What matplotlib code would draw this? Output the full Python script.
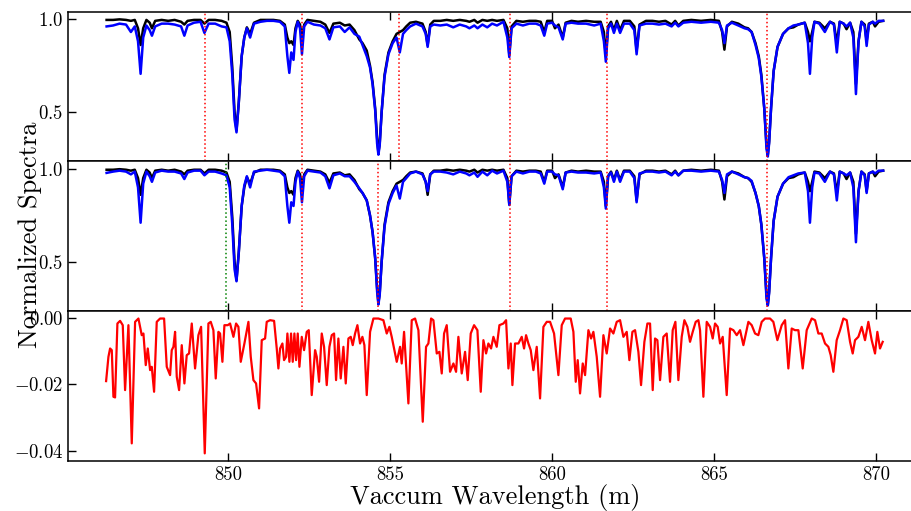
import numpy as np
import matplotlib
matplotlib.use('Agg')
import matplotlib.pyplot as plt
from matplotlib.ticker import MultipleLocator

plt.rcParams['font.family'] = 'serif'
plt.rcParams['font.serif'] = ['cmr10']
plt.rcParams['mathtext.fontset'] = 'cm'
plt.rcParams['axes.formatter.use_mathtext'] = True

# wavelength grid of the spectra
wave = [846.25, 846.45, 846.65, 846.85, 847.00, 847.12, 847.22, 847.30, 847.38, 847.48,
        847.58, 847.65, 847.75, 847.95, 848.15, 848.35, 848.55, 848.65, 848.75, 848.95,
        849.15, 849.27, 849.40, 849.60, 849.80, 849.95, 850.05, 850.13, 850.20, 850.26,
        850.33, 850.42, 850.50, 850.58, 850.68, 850.80, 851.00, 851.20, 851.40, 851.60,
        851.75, 851.83, 851.89, 851.95, 852.02, 852.08, 852.15, 852.22, 852.28, 852.35,
        852.45, 852.65, 852.85, 853.00, 853.13, 853.25, 853.45, 853.60, 853.75, 853.90,
        854.05, 854.15, 854.28, 854.38, 854.46, 854.54, 854.60, 854.64, 854.68, 854.74,
        854.83, 854.95, 855.08, 855.20, 855.30, 855.40, 855.50, 855.62, 855.80, 856.00,
        856.10, 856.16, 856.24, 856.35, 856.55, 856.75, 856.95, 857.15, 857.35, 857.45,
        857.60, 857.70, 857.85, 858.00, 858.15, 858.30, 858.50, 858.62, 858.68, 858.75,
        858.90, 859.10, 859.30, 859.50, 859.65, 859.76, 859.85, 860.00, 860.09, 860.20,
        860.33, 860.42, 860.60, 860.80, 861.05, 861.30, 861.50, 861.60, 861.66, 861.73,
        861.82, 861.91, 862.00, 862.10, 862.22, 862.40, 862.54, 862.61, 862.70, 862.90,
        863.10, 863.30, 863.50, 863.69, 863.80, 863.90, 864.05, 864.30, 864.60, 864.90,
        865.15, 865.25, 865.32, 865.40, 865.55, 865.75, 865.94, 866.05, 866.16, 866.28,
        866.38, 866.46, 866.55, 866.62, 866.66, 866.70, 866.76, 866.84, 866.96, 867.13,
        867.30, 867.45, 867.60, 867.80, 867.90, 867.96, 868.03, 868.10, 868.25, 868.42,
        868.58, 868.70, 868.79, 868.88, 869.00, 869.09, 869.20, 869.30, 869.38, 869.46,
        869.55, 869.65, 869.71, 869.78, 869.90, 869.97, 870.08, 870.22]

# observed spectrum (black, same in both panels)
observed = [0.995, 0.995, 0.998, 0.995, 0.99, 0.995, 0.95, 0.86, 0.95, 0.995,
            0.98, 0.95, 0.99, 0.995, 0.99, 0.995, 0.985, 0.97, 0.99, 0.995,
            0.995, 0.975, 0.995, 0.995, 0.99, 0.98, 0.93, 0.74, 0.50, 0.40,
            0.55, 0.80, 0.90, 0.955, 0.92, 0.98, 0.995, 0.995, 0.995, 0.99,
            0.97, 0.90, 0.87, 0.88, 0.86, 0.95, 0.99, 0.97, 0.90, 0.97,
            0.995, 0.99, 0.985, 0.97, 0.925, 0.975, 0.98, 0.965, 0.97, 0.94,
            0.89, 0.87, 0.83, 0.75, 0.66, 0.52, 0.36, 0.28, 0.33, 0.50,
            0.70, 0.82, 0.88, 0.92, 0.93, 0.94, 0.96, 0.98, 0.985, 0.975,
            0.93, 0.86, 0.97, 0.99, 0.99, 0.995, 0.99, 0.995, 0.99, 0.985,
            0.995, 0.98, 0.995, 0.99, 0.995, 0.99, 0.995, 0.95, 0.81, 0.96,
            0.99, 0.985, 0.99, 0.99, 0.985, 0.93, 0.99, 0.99, 0.95, 0.97,
            0.90, 0.98, 0.99, 0.985, 0.99, 0.985, 0.985, 0.93, 0.80, 0.96,
            0.985, 0.94, 0.99, 0.94, 0.99, 0.99, 0.96, 0.83, 0.97, 0.99,
            0.99, 0.985, 0.99, 0.97, 0.99, 0.965, 0.99, 0.995, 0.99, 0.995,
            0.99, 0.93, 0.835, 0.96, 0.985, 0.975, 0.955, 0.95, 0.93, 0.87,
            0.80, 0.70, 0.52, 0.32, 0.27, 0.34, 0.52, 0.72, 0.85, 0.92,
            0.95, 0.955, 0.97, 0.98, 0.93, 0.88, 0.93, 0.985, 0.98, 0.95,
            0.985, 0.975, 0.87, 0.985, 0.975, 0.945, 0.98, 0.93, 0.65, 0.88,
            0.985, 0.97, 0.88, 0.975, 0.985, 0.96, 0.985, 0.99]

# model spectrum, top panel
model_top = [0.96, 0.965, 0.975, 0.97, 0.93, 0.96, 0.88, 0.705, 0.90, 0.965,
             0.94, 0.91, 0.96, 0.975, 0.975, 0.97, 0.96, 0.91, 0.965, 0.98,
             0.985, 0.925, 0.975, 0.975, 0.96, 0.955, 0.88, 0.70, 0.46, 0.39,
             0.55, 0.80, 0.90, 0.95, 0.90, 0.975, 0.985, 0.99, 0.99, 0.985,
             0.96, 0.80, 0.71, 0.82, 0.78, 0.93, 0.985, 0.95, 0.81, 0.96,
             0.985, 0.97, 0.965, 0.95, 0.89, 0.955, 0.96, 0.93, 0.955, 0.92,
             0.905, 0.86, 0.80, 0.74, 0.65, 0.51, 0.33, 0.27, 0.32, 0.50,
             0.69, 0.81, 0.87, 0.90, 0.82, 0.92, 0.94, 0.96, 0.975, 0.96,
             0.92, 0.85, 0.96, 0.97, 0.965, 0.97, 0.955, 0.97, 0.96, 0.95,
             0.965, 0.95, 0.97, 0.955, 0.975, 0.965, 0.985, 0.90, 0.795, 0.95,
             0.975, 0.965, 0.975, 0.975, 0.965, 0.91, 0.975, 0.98, 0.965, 0.955,
             0.89, 0.975, 0.98, 0.975, 0.975, 0.965, 0.975, 0.88, 0.77, 0.95,
             0.975, 0.925, 0.975, 0.925, 0.975, 0.975, 0.94, 0.81, 0.965, 0.975,
             0.975, 0.97, 0.975, 0.96, 0.98, 0.96, 0.98, 0.985, 0.98, 0.985,
             0.98, 0.94, 0.87, 0.965, 0.98, 0.965, 0.95, 0.945, 0.93, 0.86,
             0.79, 0.69, 0.52, 0.30, 0.26, 0.33, 0.52, 0.72, 0.85, 0.92,
             0.95, 0.965, 0.97, 0.98, 0.87, 0.705, 0.90, 0.985, 0.975, 0.93,
             0.985, 0.97, 0.82, 0.985, 0.975, 0.96, 0.98, 0.90, 0.596, 0.88,
             0.985, 0.96, 0.855, 0.97, 0.985, 0.975, 0.99, 0.99]

# model spectrum, middle panel
model_mid = [0.978, 0.985, 0.99, 0.985, 0.97, 0.985, 0.90, 0.71, 0.92, 0.985,
             0.96, 0.93, 0.98, 0.99, 0.985, 0.985, 0.975, 0.945, 0.98, 0.99,
             0.99, 0.965, 0.985, 0.985, 0.975, 0.965, 0.90, 0.70, 0.46, 0.395,
             0.55, 0.80, 0.91, 0.96, 0.90, 0.985, 0.99, 0.995, 0.99, 0.985,
             0.96, 0.80, 0.71, 0.82, 0.80, 0.93, 0.985, 0.95, 0.82, 0.96,
             0.99, 0.985, 0.98, 0.96, 0.895, 0.965, 0.975, 0.96, 0.96, 0.93,
             0.895, 0.87, 0.83, 0.75, 0.66, 0.52, 0.34, 0.27, 0.32, 0.50,
             0.69, 0.81, 0.87, 0.91, 0.84, 0.93, 0.95, 0.975, 0.985, 0.97,
             0.93, 0.88, 0.97, 0.985, 0.985, 0.98, 0.97, 0.985, 0.975, 0.965,
             0.98, 0.957, 0.985, 0.965, 0.99, 0.975, 0.99, 0.93, 0.805, 0.96,
             0.985, 0.975, 0.985, 0.985, 0.975, 0.92, 0.985, 0.985, 0.97, 0.965,
             0.89, 0.98, 0.985, 0.98, 0.98, 0.975, 0.98, 0.90, 0.786, 0.96,
             0.98, 0.93, 0.985, 0.93, 0.985, 0.985, 0.95, 0.82, 0.975, 0.985,
             0.985, 0.98, 0.985, 0.965, 0.985, 0.965, 0.99, 0.99, 0.985, 0.99,
             0.985, 0.94, 0.87, 0.97, 0.985, 0.97, 0.955, 0.95, 0.935, 0.87,
             0.80, 0.70, 0.52, 0.30, 0.265, 0.33, 0.52, 0.72, 0.85, 0.92,
             0.955, 0.965, 0.975, 0.98, 0.88, 0.71, 0.90, 0.98, 0.975, 0.93,
             0.985, 0.97, 0.83, 0.985, 0.975, 0.965, 0.98, 0.90, 0.605, 0.88,
             0.985, 0.965, 0.87, 0.975, 0.985, 0.975, 0.99, 0.99]

# residuals (bottom panel)
resid_wave = [846.235, 846.307, 846.358, 846.410, 846.461, 846.512, 846.584, 846.667, 846.749, 846.821,
              846.924, 847.027, 847.130, 847.233, 847.335, 847.387, 847.459, 847.521, 847.593, 847.644,
              847.716, 847.798, 847.901, 848.025, 848.107, 848.210, 848.261, 848.313, 848.364, 848.416,
              848.488, 848.570, 848.652, 848.724, 848.796, 848.879, 848.981, 849.084, 849.167, 849.280,
              849.393, 849.465, 849.547, 849.619, 849.702, 849.753, 849.825, 849.887, 849.990, 850.062,
              850.165, 850.247, 850.319, 850.391, 850.504, 850.628, 850.700, 850.782, 850.864, 850.957,
              851.039, 851.142, 851.193, 851.296, 851.420, 851.502, 851.553, 851.605, 851.677, 851.728,
              851.790, 851.831, 851.893, 851.944, 851.996, 852.047, 852.099, 852.150, 852.202, 852.274,
              852.346, 852.428, 852.490, 852.582, 852.685, 852.737, 852.809, 852.891, 852.963, 853.045,
              853.128, 853.200, 853.272, 853.333, 853.405, 853.477, 853.560, 853.632, 853.714, 853.786,
              853.848, 853.920, 853.992, 854.074, 854.146, 854.208, 854.280, 854.383, 854.486, 854.640,
              854.794, 854.897, 854.979, 855.051, 855.134, 855.206,
              855.309, 855.360, 855.432, 855.566, 855.669, 855.772, 855.875, 856.009, 856.111, 856.183,
              856.266, 856.338, 856.441, 856.523, 856.595, 856.667, 856.749, 856.852, 856.955, 857.037,
              857.109, 857.212, 857.315, 857.397, 857.490, 857.593, 857.696, 857.799, 857.881, 857.963,
              858.035, 858.118, 858.190, 858.292, 858.375, 858.498, 858.581, 858.653, 858.725, 858.776,
              858.858, 858.961, 859.064, 859.136, 859.198, 859.270, 859.342, 859.424, 859.527, 859.630,
              859.733, 859.836, 859.939, 860.062, 860.196, 860.299, 860.401, 860.576, 860.659, 860.731,
              860.792, 860.864, 860.947, 861.019, 861.122, 861.204, 861.276, 861.379, 861.482, 861.585,
              861.687, 861.790, 861.893, 861.996, 862.099, 862.202, 862.305, 862.387, 862.480, 862.562,
              862.665, 862.747, 862.850, 862.943, 863.025, 863.107, 863.179, 863.251, 863.334, 863.436,
              863.539, 863.642, 863.724, 863.807, 863.899, 864.002, 864.085, 864.177, 864.259, 864.342,
              864.434, 864.517, 864.568, 864.671, 864.774, 864.877, 864.959, 865.031, 865.113, 865.186,
              865.268, 865.391, 865.494, 865.597, 865.700, 865.803, 865.906, 866.060, 866.163, 866.266,
              866.368, 866.471, 866.574, 866.728, 866.831, 866.955, 867.089, 867.192, 867.294, 867.397,
              867.500, 867.603, 867.737, 867.860, 868.015, 868.118, 868.220, 868.323, 868.426, 868.529,
              868.601, 868.683, 868.786, 868.889, 868.992, 869.095, 869.198, 869.280, 869.352, 869.455,
              869.558, 869.660, 869.763, 869.866, 869.969, 870.041, 870.123, 870.206]

resid = [-0.0190, -0.0117, -0.0092, -0.0097, -0.0237, -0.0239, -0.0017, -0.0009, -0.0022, -0.0217,
         -0.0022, -0.0377, -0.0012, -0.0002, -0.0052, -0.0047, -0.0142, -0.0092, -0.0157, -0.0147,
         -0.0222, -0.0012, -0.0002, -0.0002, -0.0147, -0.0172, -0.0097, -0.0087, -0.0042, -0.0177,
         -0.0217, -0.0082, -0.0197, -0.0112, -0.0107, -0.0017, -0.0152, -0.0052, -0.0027, -0.0407,
         -0.0017, -0.0012, -0.0037, -0.0182, -0.0042, -0.0047, -0.0132, -0.0022, -0.0022, -0.0017,
         -0.0057, -0.0017, -0.0027, -0.0132, -0.0077, -0.0012, -0.0117, -0.0187, -0.0197, -0.0272,
         -0.0067, -0.0062, -0.0012, -0.0007, -0.0009, -0.0092, -0.0152, -0.0092, -0.0077, -0.0127,
         -0.0117, -0.0047, -0.0132, -0.0047, -0.0132, -0.0047, -0.0127, -0.0047, -0.0147, -0.0057,
         -0.0097, -0.0042, -0.0037, -0.0232, -0.0097, -0.0117, -0.0192, -0.0047, -0.0087, -0.0202,
         -0.0087, -0.0052, -0.0047, -0.0187, -0.0062, -0.0182, -0.0087, -0.0197, -0.0062, -0.0057,
         -0.0082, -0.0047, -0.0022, -0.0077, -0.0057, -0.0082, -0.0232, -0.0042, -0.0002, -0.0002,
         -0.0007, -0.0047, -0.0027, -0.0057, -0.0097, -0.0132,
         -0.0087, -0.0137, -0.0042, -0.0257, -0.0007, -0.0002, -0.0037, -0.0312, -0.0087, -0.0077,
         -0.0002, -0.0007, -0.0107, -0.0102, -0.0167, -0.0047, -0.0022, -0.0162, -0.0137, -0.0162,
         -0.0057, -0.0167, -0.0102, -0.0187, -0.0047, -0.0022, -0.0037, -0.0222, -0.0067, -0.0107,
         -0.0077, -0.0092, -0.0057, -0.0087, -0.0022, -0.0017, -0.0007, -0.0152, -0.0077, -0.0202,
         -0.0077, -0.0077, -0.0057, -0.0092, -0.0052, -0.0077, -0.0097, -0.0157, -0.0087, -0.0242,
         -0.0027, -0.0012, -0.0012, -0.0047, -0.0172, -0.0022, -0.0002, -0.0002, -0.0042, -0.0192,
         -0.0127, -0.0227, -0.0137, -0.0172, -0.0037, -0.0062, -0.0042, -0.0117, -0.0237, -0.0052,
         -0.0107, -0.0032, -0.0047, -0.0012, -0.0007, -0.0057, -0.0042, -0.0127, -0.0042, -0.0037,
         -0.0102, -0.0202, -0.0072, -0.0017, -0.0017, -0.0217, -0.0062, -0.0067, -0.0187, -0.0057,
         -0.0047, -0.0192, -0.0037, -0.0012, -0.0187, -0.0057, -0.0007, -0.0027, -0.0072, -0.0042,
         -0.0012, -0.0007, -0.0037, -0.0237, -0.0012, -0.0027, -0.0062, -0.0017, -0.0027, -0.0077,
         -0.0057, -0.0232, -0.0032, -0.0037, -0.0052, -0.0037, -0.0082, -0.0012, -0.0022, -0.0047,
         -0.0052, -0.0012, -0.0002, -0.0002, -0.0012, -0.0067, -0.0022, -0.0007, -0.0152, -0.0032,
         -0.0037, -0.0037, -0.0152, -0.0037, -0.0002, -0.0007, -0.0047, -0.0047, -0.0077, -0.0087,
         -0.0112, -0.0162, -0.0067, -0.0037, -0.0002, -0.0007, -0.0072, -0.0107, -0.0067, -0.0057,
         -0.0027, -0.0067, -0.0012, -0.0067, -0.0107, -0.0042, -0.0092, -0.0072]

# marked lines
top_lines = [849.29, 852.29, 855.29, 858.70, 861.69, 866.65]
mid_lines = [852.29, 854.63, 858.70, 861.69, 866.65]
mid_green = [849.93]

fig = plt.figure(figsize=(9.12, 5.11), dpi=100)
left, width, h = 0.0746, 0.9364, 0.2932
ax1 = fig.add_axes([left, 0.0978 + 2 * h, width, h])
ax2 = fig.add_axes([left, 0.0978 + h, width, h])
ax3 = fig.add_axes([left, 0.0978, width, h])

ax1.plot(wave, observed, color='k', lw=1.8)
ax1.plot(wave, model_top, color='b', lw=1.8)
for w in top_lines:
    ax1.axvline(w, color='r', ls=':', lw=1.1)

ax2.plot(wave, observed, color='k', lw=1.8)
ax2.plot(wave, model_mid, color='b', lw=1.8)
for w in mid_lines:
    ax2.axvline(w, color='r', ls=':', lw=1.1)
for w in mid_green:
    ax2.axvline(w, color='g', ls=':', lw=1.1)

ax3.plot(resid_wave, resid, color='r', lw=1.6)

for ax in (ax1, ax2):
    ax.set_ylim(0.234, 1.04)
    ax.yaxis.set_major_locator(MultipleLocator(0.5))
ax3.set_ylim(-0.043, 0.002)
ax3.yaxis.set_major_locator(MultipleLocator(0.02))

for ax in (ax1, ax2, ax3):
    ax.set_xlim(845.06, 871.42)
    ax.xaxis.set_major_locator(MultipleLocator(5))
    ax.tick_params(direction='in', top=True, bottom=True, right=False,
                   length=6, width=1.0, labelsize=13.5)
    for s in ax.spines.values():
        s.set_linewidth(1.1)
ax1.tick_params(labelbottom=False)
ax2.tick_params(labelbottom=False)
ax3.set_xticks([850, 855, 860, 865, 870])
ax3.set_xticklabels(['850', '855', '860', '865', '870'])

ax3.set_xlabel('Vaccum Wavelength (m)', fontsize=19, labelpad=0)
fig.text(0.033, 0.54, 'Normalized Spectra', rotation=90, fontsize=19,
         ha='center', va='center')

plt.savefig('out.png', dpi=100)
